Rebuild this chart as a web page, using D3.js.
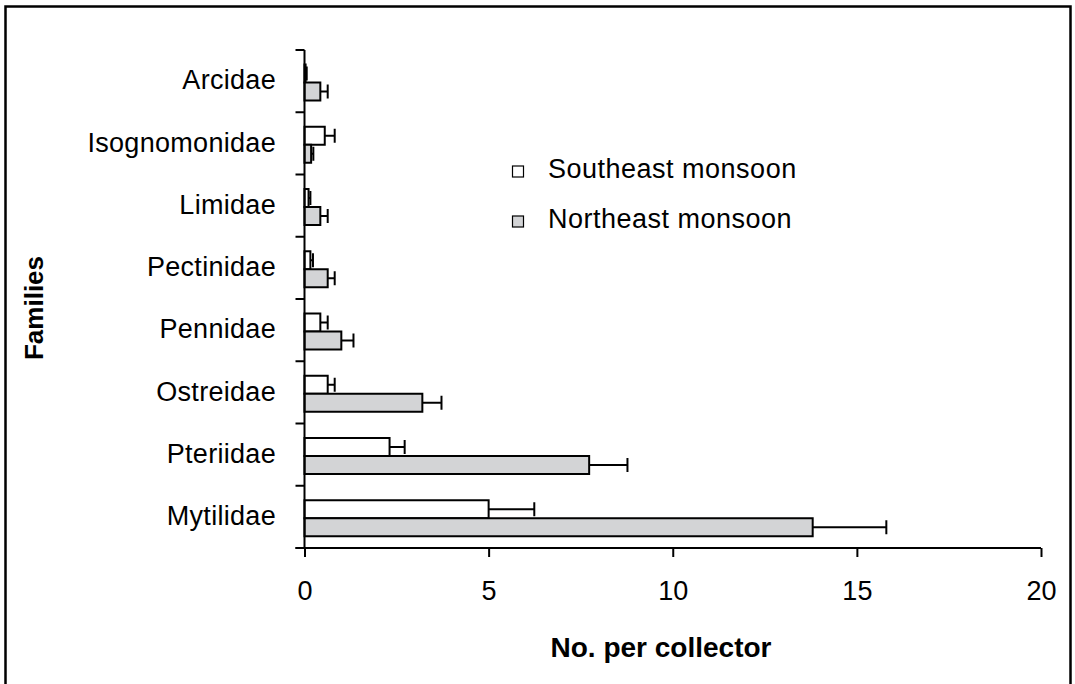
<!DOCTYPE html>
<html>
<head>
<meta charset="utf-8">
<script src="https://cdn.jsdelivr.net/npm/d3@7"></script>
<style>
  body { margin: 0; background: #fff; }
  svg { display: block; font-family: "Liberation Sans", Arial, Helvetica, sans-serif; }
</style>
</head>
<body>
<div class="chart"></div>
<script>
// families, top to bottom
var families = ["Arcidae", "Isognomonidae", "Limidae", "Pectinidae", "Pennidae", "Ostreidae", "Pteriidae", "Mytilidae"];
var seasons = ["Southeast monsoon", "Northeast monsoon"];
var southeast = [0.03, 0.55, 0.11, 0.16, 0.43, 0.63, 2.31, 5.0];
var southeastErr = [0.03, 0.27, 0.05, 0.07, 0.2, 0.19, 0.41, 1.24];
var northeast = [0.43, 0.18, 0.43, 0.63, 1.0, 3.2, 7.73, 13.8];
var northeastErr = [0.2, 0.06, 0.2, 0.19, 0.33, 0.52, 1.04, 2.0];
var xTicks = [0, 5, 10, 15, 20];

function init(){
    drawChart(".chart");
}

function drawChart(id){
    var W = 1075, H = 684;
    var margin = {top: 50, right: 34, bottom: 136, left: 304.5};

    var svg = d3.select(id).append("svg")
        .attr("width", W)
        .attr("height", H);

    // outer frame (bottom edge falls off the picture)
    svg.append("rect")
        .attr("x", 5.5).attr("y", 6.5)
        .attr("width", 1065).attr("height", 700)
        .attr("fill", "none").attr("stroke", "#000").attr("stroke-width", 2.5);

    var x = d3.scaleLinear().domain([0, 20]).range([margin.left, W - margin.right]);
    var y = d3.scaleBand().domain(families).range([margin.top, H - margin.bottom]);
    var bh = 18;
    var y1 = d3.scaleBand().domain(seasons).range([14.5, 14.5 + 2 * bh]);

    var rows = families.map(function(f, i){
        return [
            {fam: f, season: seasons[0], v: southeast[i], e: southeastErr[i], fill: "#ffffff"},
            {fam: f, season: seasons[1], v: northeast[i], e: northeastErr[i], fill: "#d3d4d6"}
        ];
    });
    var flat = [].concat.apply([], rows);

    // error bars
    var err = svg.append("g").attr("stroke", "#000").attr("stroke-width", 2)
        .selectAll("g").data(flat).join("g")
        .attr("transform", function(d){ return "translate(0," + (y(d.fam) + y1(d.season) + bh / 2) + ")"; });
    err.append("line")
        .attr("x1", function(d){ return x(d.v); })
        .attr("x2", function(d){ return x(d.v + d.e); });
    err.append("line")
        .attr("x1", function(d){ return x(d.v + d.e); })
        .attr("x2", function(d){ return x(d.v + d.e); })
        .attr("y1", -7).attr("y2", 7);

    // bars
    svg.append("g").selectAll("rect").data(flat).join("rect")
        .attr("x", x(0))
        .attr("y", function(d){ return y(d.fam) + y1(d.season); })
        .attr("width", function(d){ return x(d.v) - x(0); })
        .attr("height", bh)
        .attr("fill", function(d){ return d.fill; })
        .attr("stroke", "#000")
        .attr("stroke-width", 2);

    // y axis: ticks on the band edges
    var yAxis = svg.append("g").attr("stroke", "#000").attr("stroke-width", 2);
    yAxis.append("line")
        .attr("x1", x(0)).attr("x2", x(0))
        .attr("y1", y.range()[0]).attr("y2", y.range()[1]);
    var edges = families.map(function(f){ return y(f); }).concat([y.range()[1]]);
    yAxis.selectAll(".tk").data(edges).join("line")
        .attr("x1", x(0) - 9).attr("x2", x(0))
        .attr("y1", function(d){ return d; }).attr("y2", function(d){ return d; });

    svg.append("g").selectAll("text").data(families).join("text")
        .attr("x", 276)
        .attr("y", function(d){ return y(d) + y.bandwidth() / 2 + 1; })
        .attr("text-anchor", "end")
        .attr("dominant-baseline", "middle")
        .attr("font-size", 27)
        .attr("letter-spacing", 0.3)
        .text(function(d){ return d; });

    // x axis
    var xAxis = d3.axisBottom(x).tickValues(xTicks).tickSize(9).tickPadding(24).tickFormat(d3.format("d"));
    var gx = svg.append("g")
        .attr("transform", "translate(0," + y.range()[1] + ")")
        .call(xAxis);
    gx.select(".domain").attr("stroke-width", 2).attr("d", "M" + (x(0) - 9) + ",0H" + x(20));
    gx.selectAll(".tick line").attr("stroke-width", 2);
    gx.selectAll(".tick text").attr("font-size", 27).attr("font-family", "Liberation Sans, Arial, sans-serif").attr("fill", "#000");

    // axis titles
    svg.append("text")
        .attr("x", 661)
        .attr("y", 657)
        .attr("text-anchor", "middle")
        .attr("font-size", 28)
        .attr("font-weight", "bold")
        .text("No. per collector");

    svg.append("text")
        .attr("transform", "translate(43,308) rotate(-90)")
        .attr("text-anchor", "middle")
        .attr("font-size", 26)
        .attr("font-weight", "bold")
        .text("Families");

    // legend
    var legend = svg.append("g").selectAll("g").data([
        {label: seasons[0], fill: "#ffffff"},
        {label: seasons[1], fill: "#d3d4d6"}
    ]).join("g")
        .attr("transform", function(d, i){ return "translate(512," + (178 + i * 50) + ")"; });
    legend.append("rect")
        .attr("x", 0.5).attr("y", -12)
        .attr("width", 11).attr("height", 11)
        .attr("fill", function(d){ return d.fill; })
        .attr("stroke", "#000").attr("stroke-width", 1.2);
    legend.append("text")
        .attr("x", 36).attr("y", 0)
        .attr("font-size", 27)
        .attr("letter-spacing", 0.5)
        .text(function(d){ return d.label; });
}

init();
</script>
</body>
</html>
